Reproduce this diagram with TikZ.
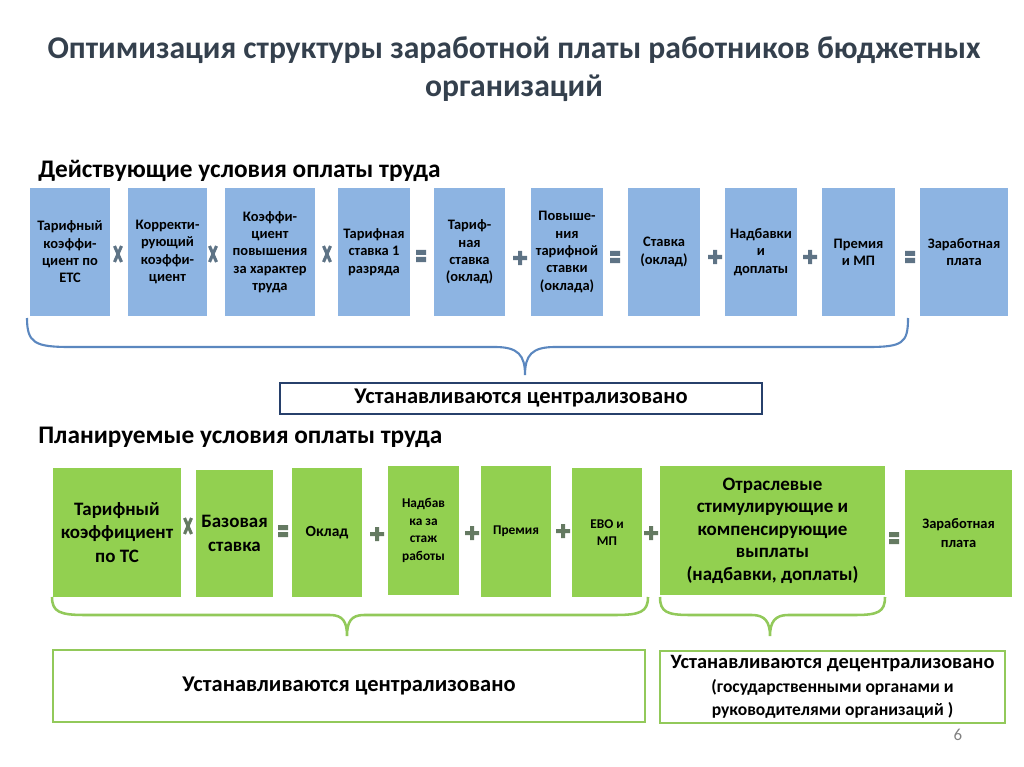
\documentclass[tikz,border=0pt]{standalone}
\usepackage{fontspec}
\setmainfont{Carlito}

\definecolor{boxblue}{HTML}{8DB4E2}
\definecolor{boxgreen}{HTML}{92D050}
\definecolor{braceblue}{HTML}{5B87BF}
\definecolor{bracegreen}{HTML}{92C95A}
\definecolor{framenavy}{HTML}{27406B}
\definecolor{opblue}{HTML}{5E7385}
\definecolor{opgreen}{HTML}{657A62}
\definecolor{titlegray}{HTML}{34404D}

\begin{document}
\begin{tikzpicture}[x=0.025cm,y=-0.025cm,
  blue_box/.style={rectangle,fill=boxblue,minimum height=3.2cm,align=center,inner sep=1pt,font=\fontsize{10.3}{12.3}\selectfont\bfseries},
  green_box/.style={rectangle,fill=boxgreen,minimum height=3.22cm,align=center,inner sep=1pt,font=\fontsize{10}{12.2}\selectfont\bfseries},
  note_box/.style={rectangle,fill=white,align=center,inner sep=1pt,font=\fontsize{16}{18}\selectfont\bfseries},
  opplus/.pic={\fill[pic actions] (-2,-7) -- (2,-7) -- (2,-2) -- (7,-2) -- (7,2) -- (2,2) -- (2,7) -- (-2,7) -- (-2,2) -- (-7,2) -- (-7,-2) -- (-2,-2) -- cycle;},
  opeq/.pic={\fill[pic actions] (-5,-6) rectangle (5,-1) (-5,1) rectangle (5,6);},
  optimes/.pic={\draw[pic actions,line width=2.2pt] (-3.5,-8) -- (3.5,8) (3.5,-8) -- (-3.5,8);}]
\useasboundingbox (0,0) rectangle (1024,767);

% title and headings
\node[titlegray,align=center,font=\fontsize{22.5}{27}\selectfont\bfseries] (title) at (514,69)
  {Оптимизация структуры заработной платы работников бюджетных\\организаций};
\node[anchor=west,inner sep=0,font=\fontsize{18}{21}\selectfont\bfseries] (current) at (38,171) {Действующие условия оплаты труда};
\node[anchor=west,inner sep=0,font=\fontsize{18}{21}\selectfont\bfseries] (planned) at (38,437) {Планируемые условия оплаты труда};

% current conditions
\node[blue_box,minimum width=2cm] (t1) at (70,252) {Тарифный\\коэффи-\\циент по\\ЕТС};
\node[blue_box,minimum width=1.975cm] (t2) at (167.5,252) {Корректи-\\рующий\\коэффи-\\циент};
\node[blue_box,minimum width=2.25cm] (t3) at (270,252) {Коэффи-\\циент\\повышения\\за характер\\труда};
\node[blue_box,minimum width=1.8cm] (t4) at (374,252) {Тарифная\\ставка 1\\разряда};
\node[blue_box,minimum width=1.78cm] (t5) at (469.5,252) {Тариф-\\ная\\ставка\\(оклад)};
\node[blue_box,minimum width=1.8cm] (t6) at (567,252) {Повыше-\\ния\\тарифной\\ставки\\(оклада)};
\node[blue_box,minimum width=1.8cm] (t7) at (664,252) {Ставка\\(оклад)};
\node[blue_box,minimum width=1.8cm] (t8) at (761,252) {Надбавки\\и\\доплаты};
\node[blue_box,minimum width=1.83cm] (t9) at (858.5,252) {Премия\\и МП};
\node[blue_box,minimum width=2.2cm] (t10) at (964,252) {Заработная\\плата};

\pic[opblue] at (118,254) {optimes};
\pic[opblue] at (213,254) {optimes};
\pic[opblue] at (327,254) {optimes};
\pic[opblue] at (421,256) {opeq};
\pic[opblue] at (520,258) {opplus};
\pic[opblue] at (615,257) {opeq};
\pic[opblue] at (715,257) {opplus};
\pic[opblue] at (810,257) {opplus};
\pic[opblue] at (910,257) {opeq};

\draw[braceblue,line width=1.5pt] (27,318) .. controls (27,343) and (35,347) .. (70,347) -- (495,347)
  .. controls (518,347) and (525,355) .. (525,375) .. controls (525,355) and (532,347) .. (555,347)
  -- (868,347) .. controls (903,347) and (908,343) .. (908,318);
\node[note_box,draw=framenavy,line width=1.6pt,minimum width=12.05cm,minimum height=0.775cm] (central1) at (521,398.5) {Устанавливаются централизовано};

% planned conditions
\node[green_box,minimum width=3.2cm,font=\fontsize{13.5}{16.6}\selectfont\bfseries] (p1) at (117,532.5) {Тарифный\\коэффициент\\по ТС};
\node[green_box,minimum width=1.93cm,minimum height=3.18cm,font=\fontsize{13.5}{16.6}\selectfont\bfseries] (p2) at (234.5,533.5) {Базовая\\ставка};
\node[green_box,minimum width=1.75cm,font=\fontsize{11}{13}\selectfont\bfseries] (p3) at (327,532.5) {Оклад};
\node[green_box,minimum width=1.78cm,font=\fontsize{9.5}{12.5}\selectfont\bfseries] (p4) at (423.5,530.5) {Надбав\\ка за\\стаж\\работы};
\node[green_box,minimum width=1.75cm,minimum height=3.27cm,font=\fontsize{9.5}{12}\selectfont\bfseries] (p5) at (516,531.5) {Премия};
\node[green_box,minimum width=1.75cm,font=\fontsize{9.5}{12}\selectfont\bfseries] (p6) at (607,532.5) {ЕВО и\\МП};
\node[green_box,minimum width=5.63cm,font=\fontsize{13.5}{16}\selectfont\bfseries] (p7) at (772.5,530.5) {Отраслевые\\стимулирующие и\\компенсирующие\\выплаты\\(надбавки, доплаты)};
\node[green_box,minimum width=2.68cm,minimum height=3.18cm,font=\fontsize{10.3}{13.5}\selectfont\bfseries] (p8) at (958.5,533.5) {Заработная\\плата};

\pic[opgreen] at (188,526) {optimes};
\pic[opgreen] at (283,531) {opeq};
\pic[opgreen] at (377,534) {opplus};
\pic[opgreen] at (472,533) {opplus};
\pic[opgreen] at (563,531) {opplus};
\pic[opgreen] at (651,533) {opplus};
\pic[opgreen] at (894,538) {opeq};

\draw[bracegreen,line width=1.8pt] (52,597) .. controls (52,612) and (60,615) .. (85,615) -- (330,615)
  .. controls (343,615) and (347,622) .. (347,636) .. controls (347,622) and (351,615) .. (364,615)
  -- (615,615) .. controls (640,615) and (648,612) .. (648,597);
\draw[bracegreen,line width=1.8pt] (660,597) .. controls (660,612) and (667,615) .. (690,615) -- (752,615)
  .. controls (765,615) and (770,622) .. (770,636) .. controls (770,622) and (775,615) .. (788,615)
  -- (855,615) .. controls (878,615) and (885,612) .. (885,597);

\node[note_box,draw=bracegreen,line width=2pt,minimum width=14.8cm,minimum height=1.8cm] (central2) at (349,686) {Устанавливаются централизовано};
\node[note_box,draw=bracegreen,line width=2pt,minimum width=8.62cm,minimum height=1.8cm,font=\fontsize{14.5}{16}\selectfont\bfseries] (decentral) at (832.5,687)
  {Устанавливаются децентрализовано\\[1pt]{\fontsize{12.5}{14}\selectfont (государственными органами и}\\{\fontsize{12.5}{14}\selectfont руководителями организаций )}};

\node[gray,font=\fontsize{12}{14}\selectfont] (pagenum) at (958,735) {6};
\end{tikzpicture}
\end{document}
